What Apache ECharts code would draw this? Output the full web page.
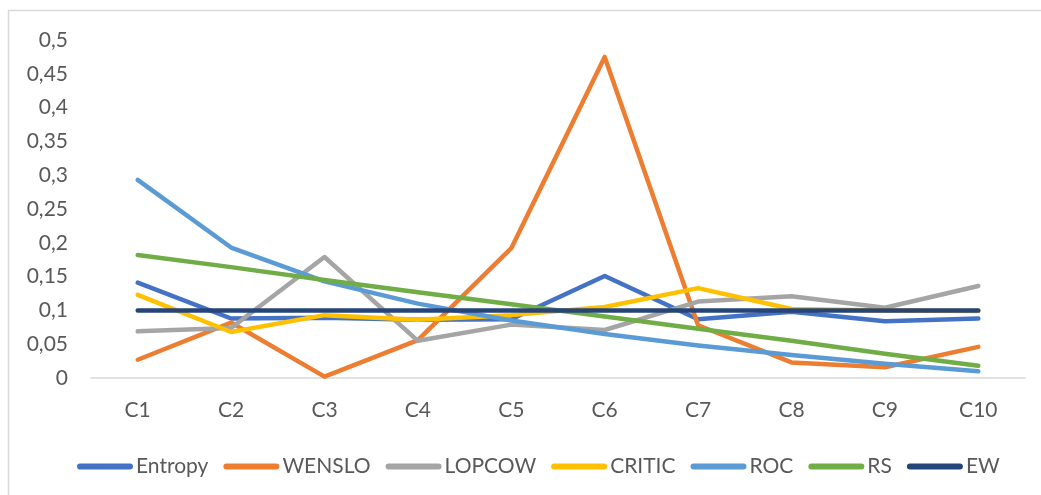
<!DOCTYPE html>
<html>
<head>
<meta charset="utf-8">
<script src="https://cdn.jsdelivr.net/npm/echarts@6/dist/echarts.min.js"></script>
<style>
html,body{margin:0;padding:0;background:#fff;}
#chart{width:1041px;height:495px;}
</style>
</head>
<body>
<div id="chart"></div>
<script>
const categories = ['C1','C2','C3','C4','C5','C6','C7','C8','C9','C10'];
const entropy = [0.141, 0.088, 0.089, 0.086, 0.087, 0.151, 0.087, 0.098, 0.084, 0.088];
const wenslo  = [0.027, 0.082, 0.002, 0.056, 0.192, 0.475, 0.078, 0.023, 0.016, 0.046];
const lopcow  = [0.069, 0.074, 0.179, 0.055, 0.079, 0.071, 0.113, 0.121, 0.104, 0.136];
const critic  = [0.123, 0.068, 0.093, 0.086, 0.093, 0.105, 0.133, 0.102, 0.100, 0.099];
const roc     = [0.293, 0.193, 0.143, 0.110, 0.085, 0.065, 0.048, 0.034, 0.021, 0.010];
const rs      = [0.182, 0.164, 0.145, 0.127, 0.109, 0.091, 0.073, 0.055, 0.036, 0.018];
const ew      = [0.100, 0.100, 0.100, 0.100, 0.100, 0.100, 0.100, 0.100, 0.100, 0.100];
const seriesNames = ['Entropy','WENSLO','LOPCOW','CRITIC','ROC','RS','EW'];
const seriesData = [entropy, wenslo, lopcow, critic, roc, rs, ew];
const colors = ['#4472C4','#ED7D31','#A5A5A5','#FFC000','#5B9BD5','#70AD47','#264478'];

const FONT = 'Lato';
const chart = echarts.init(document.getElementById('chart'), null, {renderer:'canvas'});
chart.setOption({
  animation: false,
  backgroundColor: '#ffffff',
  color: colors,
  graphic: [{
    type: 'rect', silent: true, z: -10,
    shape: {x: 8.5, y: 10.5, width: 1100, height: 600},
    style: {fill: 'none', stroke: '#D9D9D9', lineWidth: 1.5}
  }],
  grid: {left: 91, right: 16, top: 40, bottom: 117, outerBoundsMode: 'none', containLabel: false},
  legend: {
    left: 72, top: 451,
    itemWidth: 56, itemHeight: 6, itemGap: 15,
    icon: 'path://M3,0 L53,0 A3,3 0 0 1 53,6 L3,6 A3,3 0 0 1 3,0 Z',
    textStyle: {fontFamily: FONT, fontSize: 21, color: '#595959', padding: [0,0,0,-2]},
    data: seriesNames
  },
  xAxis: {
    type: 'category', data: categories, boundaryGap: true,
    axisLine: {show: true, lineStyle: {color: '#D9D9D9', width: 1.5}},
    axisTick: {show: false},
    splitLine: {show: false},
    axisLabel: {fontFamily: FONT, fontSize: 21, color: '#595959', margin: 22}
  },
  yAxis: {
    type: 'value', min: 0, max: 0.5, interval: 0.05,
    axisLine: {show: false}, axisTick: {show: false},
    splitLine: {show: false},
    axisLabel: {
      fontFamily: FONT, fontSize: 21, color: '#595959', margin: 23,
      formatter: v => String(Math.round(v * 100) / 100).replace('.', ',')
    }
  },
  series: seriesNames.map((n, i) => ({
    name: n, type: 'line', data: seriesData[i],
    symbol: 'none', smooth: false,
    lineStyle: {width: 4.5, color: colors[i], cap: 'round', join: 'round'},
    itemStyle: {color: colors[i]},
    z: 2 + i
  }))
});
</script>
</body>
</html>
